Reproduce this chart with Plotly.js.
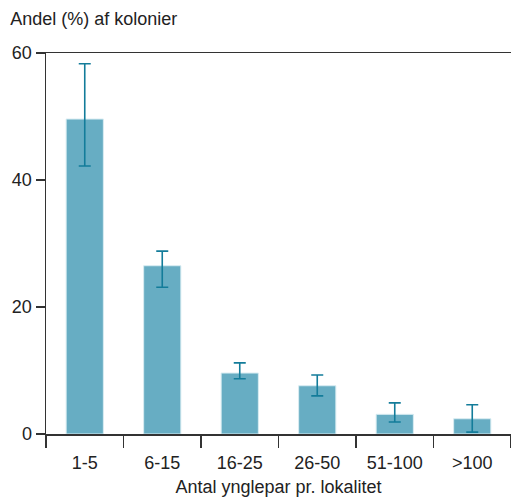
<!DOCTYPE html>
<html><head><meta charset="utf-8">
<script src="https://cdn.plot.ly/plotly-3.0.1.min.js"></script>
<style>html,body{margin:0;padding:0;background:#fff}</style>
</head><body>
<div id="chart" style="width:511px;height:499px"></div>
<script>
const categories = ["1-5", "6-15", "16-25", "26-50", "51-100", ">100"];
const shares = [49.6, 26.5, 9.6, 7.6, 3.1, 2.4];
const errPlus = [8.7, 2.3, 1.6, 1.7, 1.8, 2.2];
const errMinus = [7.4, 3.4, 0.9, 1.6, 1.2, 2.1];

const trace = {
  type: "bar",
  x: categories,
  y: shares,
  marker: {color: "#67adc3", line: {color: "#d8ecf2", width: 1}},
  width: 0.48,
  error_y: {type: "data", symmetric: false, array: errPlus, arrayminus: errMinus,
            color: "#137c9a", thickness: 1.6, width: 6},
  hoverinfo: "none"
};
const layout = {
  width: 511, height: 499,
  margin: {l: 46, r: 0, t: 53, b: 65},
  paper_bgcolor: "#fff", plot_bgcolor: "#fff",
  font: {family: "Liberation Sans, Arial, sans-serif", size: 18, color: "#222"},
  title: {text: "Andel (%) af kolonier", x: 0.02, xref: "container", xanchor: "left", y: 0.962, yref: "container", yanchor: "middle",
          font: {size: 18, color: "#222"}},
  showlegend: false,
  bargap: 0.52,
  xaxis: {
    range: [-0.5, 5.5], showline: true, linecolor: "#333", linewidth: 1.5, mirror: true,
    ticks: "outside", tickson: "boundaries", ticklen: 12, tickcolor: "#333", tickwidth: 1.5,
    ticklabelstandoff: 12,
    showgrid: false, zeroline: false, fixedrange: true,
    tickfont: {size: 18, color: "#222"},
    title: {text: "Antal ynglepar pr. lokalitet", font: {size: 18, color: "#222"}, standoff: 8}
  },
  yaxis: {
    range: [0, 60], tickvals: [0, 20, 40, 60], showline: true, linecolor: "#333", linewidth: 1.5,
    ticks: "outside", ticklen: 9, tickcolor: "#333", tickwidth: 1.5,
    showgrid: false, zeroline: false, fixedrange: true,
    tickfont: {size: 18, color: "#222"}
  }
};
Plotly.newPlot("chart", [trace], layout, {displayModeBar: false, staticPlot: true});
</script>
</body></html>
